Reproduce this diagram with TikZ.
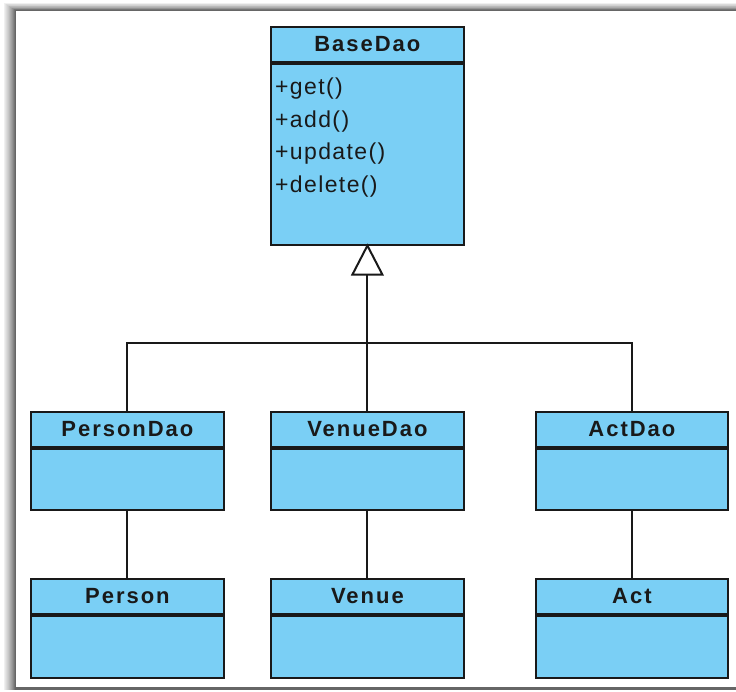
\documentclass[tikz,border=0pt]{standalone}
\usepackage{fontspec}
\setmainfont{Liberation Sans}
\usetikzlibrary{calc}
\definecolor{umlblue}{RGB}{122,207,245}
\definecolor{umlline}{RGB}{25,25,25}
\tikzset{
  hdr/.style={draw=umlline, line width=1.8pt, fill=umlblue, minimum width=193pt, minimum height=35pt, inner sep=0pt, font=\fontsize{22}{24}\selectfont\bfseries\addfontfeature{LetterSpace=9}, text=black!90},
  bodybox/.style={draw=umlline, line width=1.8pt, fill=umlblue, minimum width=193pt, inner sep=0pt},
  conn/.style={draw=umlline, line width=2pt},
  inherit/.style={draw=umlline, line width=2pt},
}
\begin{document}
\begin{tikzpicture}[x=1pt,y=-1pt]
\useasboundingbox (0,0) rectangle (736,692);
\clip (0,0) rectangle (736,692);
% frame with shadow
\foreach \i/\c in {0/6,1/10,2/14,3/18,4/22,5/27,6/32,7/37,8/42,9/48,10/54,11/60}{
  \fill[black!\c] ({4+\i},{3+0.65*\i}) rectangle (760,690);
}
\fill[white] (16,11) rectangle (760,687);

% BaseDao
\node[hdr, anchor=north west] (base) at (270,26) {BaseDao};
\node[bodybox, anchor=north, minimum height=181pt] (baseb) at (base.south) {};
\node[anchor=north west, inner sep=0pt, align=left, font=\fontsize{23}{32.4}\selectfont\addfontfeature{LetterSpace=6}, text=black!90] (methods) at (275,78) {+get()\\+add()\\+update()\\+delete()};

% Dao row
\node[hdr, anchor=north west] (pdao) at (30,411) {PersonDao};
\node[bodybox, anchor=north, minimum height=61pt] (pdaob) at (pdao.south) {};
\node[hdr, anchor=north west] (vdao) at (270,411) {VenueDao};
\node[bodybox, anchor=north, minimum height=61pt] (vdaob) at (vdao.south) {};
\node[hdr, anchor=north west, minimum width=192pt] (adao) at (535,411) {ActDao};
\node[bodybox, anchor=north, minimum width=192pt, minimum height=61pt] (adaob) at (adao.south) {};

% Entity row
\node[hdr, anchor=north west] (person) at (30,578) {Person};
\node[bodybox, anchor=north, minimum height=62pt] (personb) at (person.south) {};
\node[hdr, anchor=north west] (venue) at (270,578) {Venue};
\node[bodybox, anchor=north, minimum height=62pt] (venueb) at (venue.south) {};
\node[hdr, anchor=north west, minimum width=192pt] (act) at (535,578) {Act};
\node[bodybox, anchor=north, minimum width=192pt, minimum height=62pt] (actb) at (act.south) {};

% generalization tree
\coordinate (join) at ($(baseb.south)+(0,97)$);
\coordinate (tri) at ($(baseb.south)+(0,29)$);
\draw[conn] (pdao.north) |- (join) -| (adao.north);
\draw[conn] (vdao.north) -- (tri);
\draw[inherit, fill=white, line join=miter] (baseb.south) -- ++(-15,29) -- ++(30,0) -- cycle;

% associations
\draw[conn] (pdaob.south) -- (person.north);
\draw[conn] (vdaob.south) -- (venue.north);
\draw[conn] (adaob.south) -- (act.north);
\end{tikzpicture}
\end{document}
